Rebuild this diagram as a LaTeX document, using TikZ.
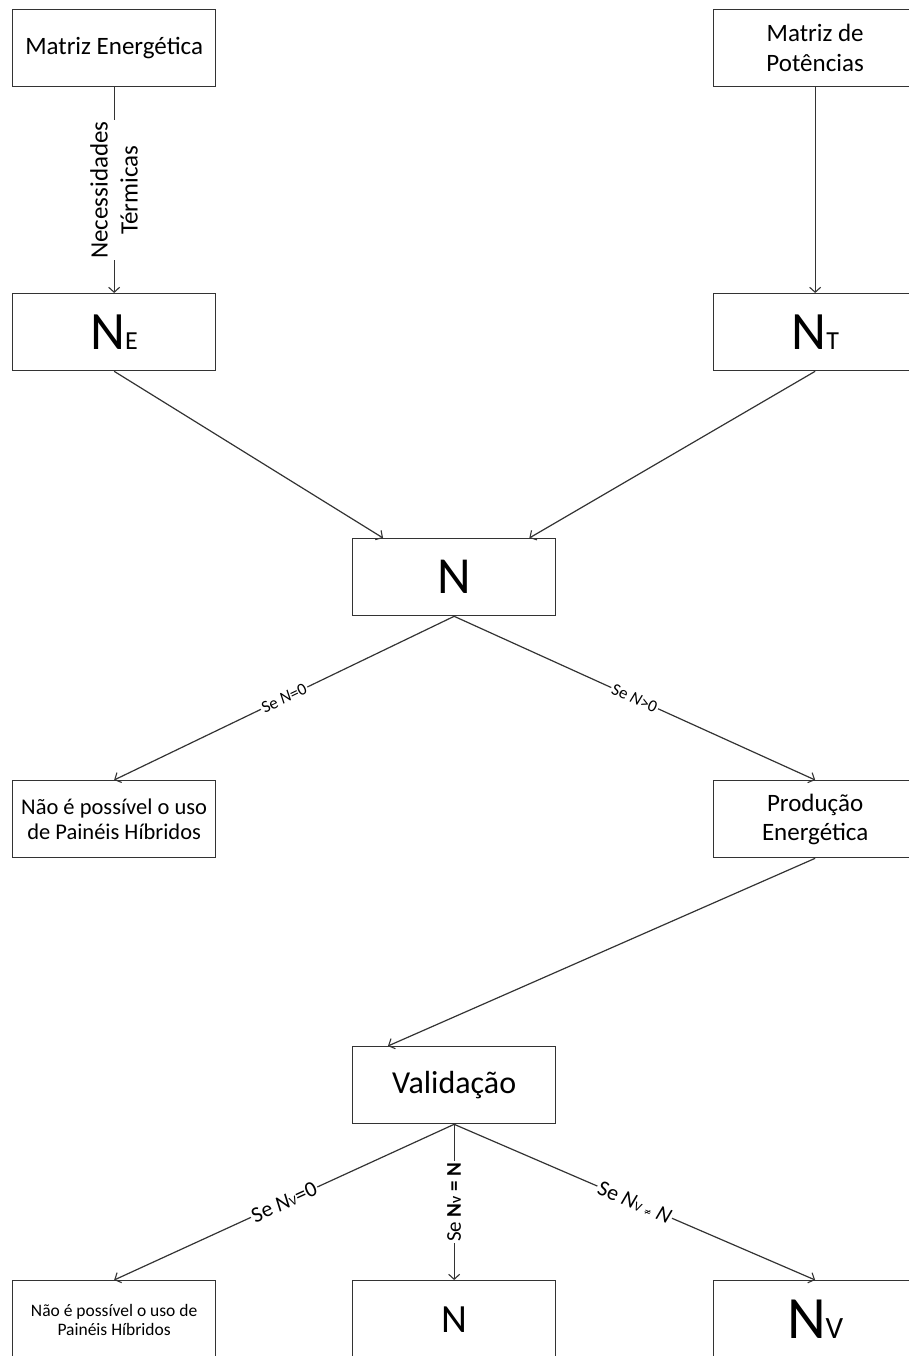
\documentclass[tikz,border=0pt]{standalone}
\usepackage{fontspec}
\setmainfont{Carlito}
\newfontfamily\symfont{DejaVu Sans}
\usetikzlibrary{arrows.meta,calc}
\definecolor{ink}{HTML}{333333}
\newcommand{\fs}[1]{\fontsize{#1}{#1}\selectfont}
\tikzset{
  box/.style={draw=ink, line width=1.3pt, minimum width=203pt, minimum height=77pt,
    inner sep=0pt, anchor=north west, align=center, text=black},
  flow/.style={draw=ink, line width=1.2pt,
    -{Straight Barb[length=5pt,width=11pt,line width=1.1pt]}},
  cond/.style={fill=white, inner sep=1.5pt, sloped, text=black},
}
\begin{document}
\begin{tikzpicture}[x=1pt,y=-1pt]
\useasboundingbox (0,0) rectangle (909,1356);

% inputs
\node[box, font=\fontsize{25}{29}\selectfont] (mE) at (12,9) {Matriz Energética};
\node[box, font=\fontsize{25}{30}\selectfont] (mP) at (713,9) {Matriz de\\Potências};

% first level
\node[box] (nE) at (12,293) {{\fs{54}N}{\fs{26}E}};
\node[box] (nT) at (713,293) {{\fs{54}N}{\fs{26}T}};

% combined value
\node[box] (n) at (352,538) {\fs{52}N};

% first decision
\node[box, font=\fontsize{22.5}{25}\selectfont] (no1) at (12,780) {Não é possível o uso\\de Painéis Híbridos};
\node[box, font=\fontsize{25}{29}\selectfont] (prod) at (713,780) {Produção\\Energética};

% validation
\node[box] (val) at (352,1046) {\fs{32}Validação};

% results
\node[box, minimum height=78pt, font=\fontsize{17.5}{19}\selectfont] (no2) at (12,1280) {Não é possível o uso de\\Painéis Híbridos};
\node[box, minimum height=78pt] (nRes) at (352,1280) {\fs{40}N};
\node[box, minimum height=78pt] (nV) at (713,1280) {{\fs{60}N}{\fs{31}V}};

% connectors
\draw[flow] (mE.south) -- node[fill=white, rotate=90, inner sep=1pt, align=center,
  font=\fontsize{25}{30}\selectfont] {Necessidades\\Térmicas} (nE.north);
\draw[flow] (mP.south -| nT.north) -- (nT.north);
\draw[flow] (nE.south) -- ($(n.north west)!0.152!(n.north east)$);
\draw[flow] (nT.south) -- ($(n.north west)!0.868!(n.north east)$);

\draw[flow] (n.south) -- node[cond, font=\fs{17}] {Se \textit{N}=0} (no1.north);
\draw[flow] (n.south) -- node[cond, font=\fs{17}] {Se \textit{N}>0} (prod.north);

\draw[flow] (prod.south) -- ($(val.north west)!0.176!(val.north east)$);

\draw[flow] (val.south) -- node[cond, font=\fs{22}]
  {Se \textit{N}{\fs{13}V}=0} (no2.north);
\draw[flow] (val.south) -- node[fill=white, rotate=90, inner sep=1.5pt, font=\fs{21}]
  {Se \textbf{N}{\fs{12}\bfseries V} \textbf{= N}} (nRes.north);
\draw[flow] (val.south) -- node[cond, font=\fs{22}]
  {Se \textit{N}{\fs{13}V}\,{\symfont\fs{9}≠}\ \textit{N}} (nV.north);
\end{tikzpicture}
\end{document}
